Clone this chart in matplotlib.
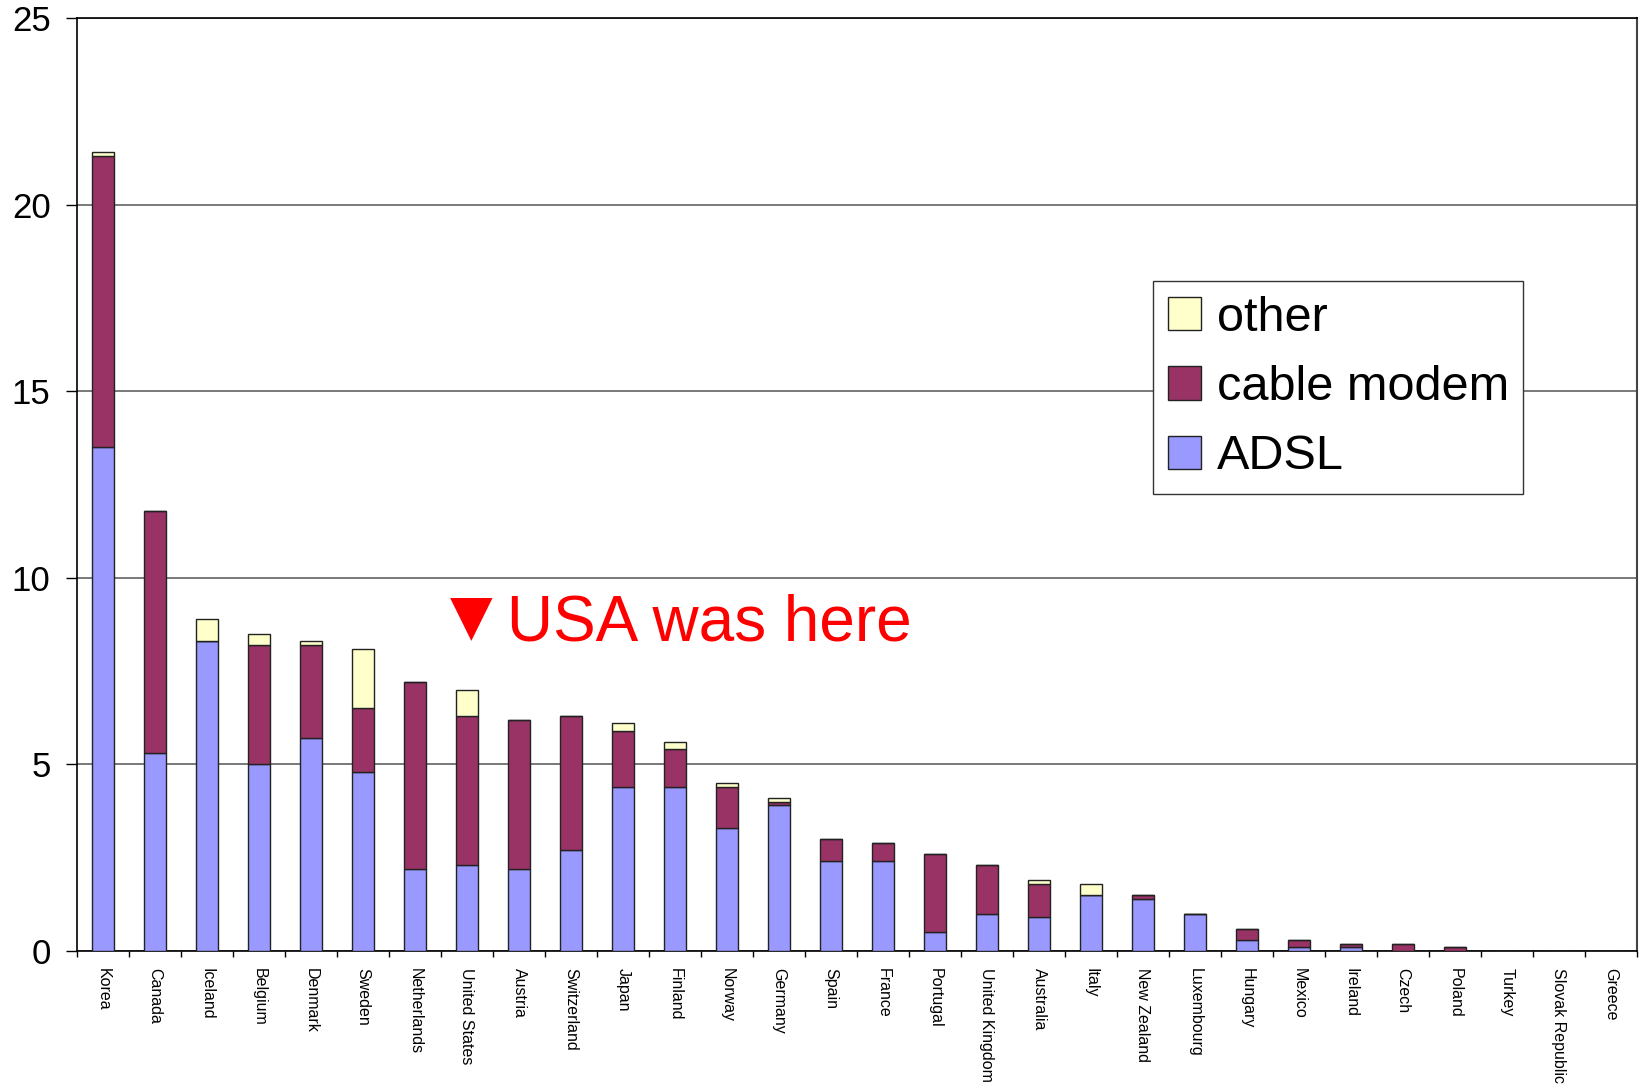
#!/usr/bin/env python3
"""
Broadband subscribers per 100 inhabitants by country, stacked by technology.
"""

import numpy as np
import matplotlib
matplotlib.use("Agg")
import matplotlib.pyplot as plt

countries = ["Korea", "Canada", "Iceland", "Belgium", "Denmark", "Sweden",
             "Netherlands", "United States", "Austria", "Switzerland", "Japan",
             "Finland", "Norway", "Germany", "Spain", "France", "Portugal",
             "United Kingdom", "Australia", "Italy", "New Zealand", "Luxembourg",
             "Hungary", "Mexico", "Ireland", "Czech", "Poland", "Turkey",
             "Slovak Republic", "Greece"]

adsl = [13.5, 5.3, 8.3, 5.0, 5.7, 4.8, 2.2, 2.3, 2.2, 2.7, 4.4, 4.4, 3.3, 3.9,
        2.4, 2.4, 0.5, 1.0, 0.9, 1.5, 1.4, 1.0, 0.3, 0.1, 0.1, 0, 0, 0, 0, 0]
cable = [7.8, 6.5, 0, 3.2, 2.5, 1.7, 5.0, 4.0, 4.0, 3.6, 1.5, 1.0, 1.1, 0.1,
         0.6, 0.5, 2.1, 1.3, 0.9, 0, 0.1, 0, 0.3, 0.2, 0.1, 0.2, 0.1, 0, 0, 0]
other = [0.1, 0, 0.6, 0.3, 0.1, 1.6, 0, 0.7, 0, 0, 0.2, 0.2, 0.1, 0.1,
         0, 0, 0, 0, 0.1, 0.3, 0, 0, 0, 0, 0, 0, 0, 0, 0, 0]

series_labels = ["ADSL", "cable modem", "other"]
colors = ["#9999FF", "#993366", "#FFFFCC"]

plt.rcParams["font.family"] = ["Liberation Sans", "DejaVu Sans"]

fig = plt.figure(figsize=(16.4, 10.84), dpi=100)
ax = fig.add_axes([77 / 1640, 1 - 951 / 1084, 1560 / 1640, 933 / 1084])

x = np.arange(len(countries))
adsl_a = np.array(adsl)
cable_a = np.array(cable)
other_a = np.array(other)

bar_kw = dict(width=0.42, edgecolor="#222222", linewidth=1.0, zorder=3)
b1 = ax.bar(x, adsl_a, color=colors[0], label=series_labels[0], **bar_kw)
b2 = ax.bar(x, cable_a, bottom=adsl_a, color=colors[1], label=series_labels[1], **bar_kw)
b3 = ax.bar(x, other_a, bottom=adsl_a + cable_a, color=colors[2], label=series_labels[2], **bar_kw)

ax.set_xlim(-0.5, len(countries) - 0.5)
ax.set_ylim(0, 25)
ax.set_yticks([0, 5, 10, 15, 20, 25])
ax.tick_params(axis="y", labelsize=25, length=8, width=1, pad=11, direction="out")

# labels centred on bars, tick marks on category boundaries
ax.set_xticks(x)
ax.set_xticklabels(countries, rotation=-90, fontsize=11.5, va="top", ha="center")
ax.set_xticks(np.arange(-0.5, len(countries)), minor=True)
ax.tick_params(axis="x", which="major", length=0, pad=12)
ax.tick_params(axis="x", which="minor", length=4, width=1, direction="out")

ax.yaxis.grid(True, color="#555555", linewidth=1.1, zorder=0)
ax.set_axisbelow(True)
for side in ["left", "bottom", "top"]:
    ax.spines[side].set_color("black")
    ax.spines[side].set_linewidth(1.2)
ax.spines["right"].set_color("#444444")
ax.spines["right"].set_linewidth(1.5)

leg = ax.legend(handles=[b3, b2, b1], labels=series_labels[::-1],
                loc="upper left", bbox_to_anchor=(0.6897, 0.718),
                borderaxespad=0, fontsize=35, fancybox=False,
                handlelength=0.68, handleheight=0.68, handletextpad=0.33,
                labelspacing=0.5, borderpad=0.3, framealpha=1)
leg.get_frame().set_edgecolor("#333333")
leg.get_frame().set_linewidth(1.0)

# pointer to where the United States used to rank, plus the note
us = countries.index("United States")
ax.text(us + 0.08, 8.9, "\u25bc", family="DejaVu Sans", color="#FF0000",
        fontsize=40, ha="center", va="center", zorder=5)
ax.text(us + 0.77, 8.32, "USA was here", color="#FF0000", fontsize=46,
        ha="left", va="baseline", zorder=5)

fig.savefig("out.png", dpi=100)
print("Saved out.png")
